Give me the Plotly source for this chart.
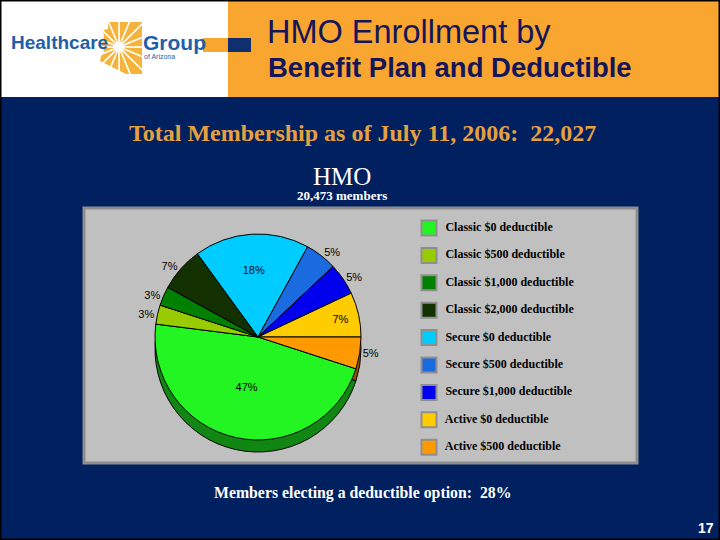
import math
import plotly.graph_objects as go

# ---------------- data ----------------
plans = [
    "Classic $0 deductible",
    "Classic $500 deductible",
    "Classic $1,000 deductible",
    "Classic $2,000 deductible",
    "Secure $0 deductible",
    "Secure $500 deductible",
    "Secure $1,000 deductible",
    "Active $0 deductible",
    "Active $500 deductible",
]
shares = [47, 3, 3, 7, 18, 5, 5, 7, 5]
colors = ["#22F522", "#99CC00", "#008000", "#123000", "#00CCFF",
          "#1A6AE0", "#0000EE", "#FFCC00", "#FF9900"]
label_pos = ["inside", "outside", "outside", "outside", "inside",
             "outside", "outside", "inside", "outside"]

title1 = "HMO Enrollment by"
title2 = "Benefit Plan and Deductible"
total_text = "Total Membership as of July 11, 2006:  22,027"
hmo_text = "HMO"
hmo_members = "20,473 members"
footer_text = "Members electing a deductible option:  28%"
page_no = "17"

# ---------------- helpers ----------------
W, H = 720, 540
def px(x):
    return x / W
def py(y):
    return 1 - y / H

def darken(hexc, f=0.55):
    hexc = hexc.lstrip("#")
    r, g, b = (int(hexc[i:i + 2], 16) for i in (0, 2, 4))
    return "#%02x%02x%02x" % (int(r * f), int(g * f), int(b * f))

NAVY = "#002060"
ORANGE = "#F9A630"
TITLE_C = "#15155A"

fig = go.Figure()

# pie geometry (pixel)
cx, cy, R, depth = 258, 337, 103, 12

# 3D side of pie (drawn first, shifted down)
fig.add_trace(go.Pie(
    values=shares, labels=plans, sort=False, direction="clockwise", rotation=108,
    marker=dict(colors=[darken(c) for c in colors], line=dict(color="black", width=1)),
    textinfo="none", hoverinfo="skip", showlegend=False,
    domain=dict(x=[px(cx - R), px(cx + R)], y=[py(cy + depth + R), py(cy + depth - R)]),
))

# top face of pie
fig.add_trace(go.Pie(
    values=shares, labels=plans, sort=False, direction="clockwise", rotation=108,
    marker=dict(colors=colors, line=dict(color="black", width=1)),
    texttemplate="%{percent:.0%}", textposition=label_pos,
    insidetextorientation="horizontal",
    textfont=dict(family="Liberation Sans, Arial", size=11, color="black"),
    showlegend=False,
    domain=dict(x=[px(cx - R), px(cx + R)], y=[py(cy + R), py(cy - R)]),
))

# legend built as a scatter on hidden axes
idx = list(range(len(plans)))
fig.add_trace(go.Scatter(
    x=[0] * len(plans), y=idx, mode="markers+text",
    marker=dict(symbol="square", size=15, color=colors,
                line=dict(color="#8F8F8F", width=2)),
    text=plans, texttemplate="  %{text}", textposition="middle right",
    textfont=dict(family="Liberation Serif, Times New Roman", size=12,
                  color="black", weight="bold"),
    hoverinfo="skip", showlegend=False,
    xaxis="x", yaxis="y", cliponaxis=False,
))

leg_top, leg_step = 228, 27.4
fig.update_layout(
    xaxis=dict(domain=[px(420), px(640)], range=[-9, 211], visible=False, fixedrange=True),
    yaxis=dict(domain=[py(leg_top + 8.5 * leg_step), py(leg_top - 0.5 * leg_step)],
               range=[8.5, -0.5], visible=False, fixedrange=True),
)

shapes = []
# header
shapes.append(dict(type="rect", xref="paper", yref="paper", x0=0, x1=px(228), y0=py(97), y1=1,
                   fillcolor="white", line=dict(width=0), layer="below"))
shapes.append(dict(type="rect", xref="paper", yref="paper", x0=px(228), x1=1, y0=py(97), y1=1,
                   fillcolor=ORANGE, line=dict(width=0), layer="below"))
shapes.append(dict(type="rect", xref="paper", yref="paper", x0=px(203), x1=px(228), y0=py(52), y1=py(38),
                   fillcolor=ORANGE, line=dict(width=0), layer="below"))
shapes.append(dict(type="rect", xref="paper", yref="paper", x0=px(228), x1=px(251), y0=py(52), y1=py(38),
                   fillcolor="#0F2F6E", line=dict(width=0), layer="below"))
# logo: Arizona shape with sunburst
az = [(108, 22), (142, 22), (142, 74), (126, 74), (100, 61), (101, 56), (104, 52),
      (102, 44), (104, 36), (103, 30), (108, 29)]
path = "M " + " L ".join(f"{px(x)},{py(y)}" for x, y in az) + " Z"
shapes.append(dict(type="path", xref="paper", yref="paper", path=path,
                   fillcolor="#F4B33A", line=dict(width=0), layer="below"))
scx, scy = 119, 47
for k in range(16):
    a = 2 * math.pi * k / 16
    shapes.append(dict(type="line", xref="paper", yref="paper",
                       x0=px(scx + 4 * math.cos(a)), y0=py(scy + 4 * math.sin(a)),
                       x1=px(scx + 34 * math.cos(a)), y1=py(scy + 34 * math.sin(a)),
                       line=dict(color="white", width=1.6), layer="below"))
shapes.append(dict(type="circle", xref="paper", yref="paper",
                   x0=px(scx - 5), x1=px(scx + 5), y0=py(scy + 5), y1=py(scy - 5),
                   fillcolor="white", line=dict(width=0), layer="below"))
# chart panel
shapes.append(dict(type="rect", xref="paper", yref="paper", x0=px(84), x1=px(637), y0=py(463), y1=py(208),
                   fillcolor="#C0C0C0", line=dict(color="#8E8E8E", width=3), layer="below"))
# outer black frame
shapes.append(dict(type="rect", xref="paper", yref="paper", x0=0, x1=1, y0=0, y1=1,
                   fillcolor="rgba(0,0,0,0)", line=dict(color="black", width=3)))

ann = []
def add_text(text, x, y, size, color, family, weight="normal", xanchor="center"):
    ann.append(dict(text=text, x=px(x), y=py(y), xref="paper", yref="paper",
                    xanchor=xanchor, yanchor="middle", showarrow=False,
                    font=dict(size=size, color=color, family=family, weight=weight)))

SANS = "Liberation Sans, Arial"
SERIF = "Liberation Serif, Times New Roman"
add_text("Healthcare", 9, 43, 19, "#1F5FA8", SANS, "bold", "left")
add_text("Group", 141, 43, 21, "#1F5FA8", SANS, "bold", "left")
add_text("of Arizona", 142, 57, 7, "#1F5FA8", SANS, "normal", "left")
add_text(title1, 265, 32, 32.5, TITLE_C, SANS, "normal", "left")
add_text(title2, 266, 67, 27.5, TITLE_C, SANS, "bold", "left")
add_text(total_text, 362, 133, 24, "#E5A040", SERIF, "bold")
add_text(hmo_text, 342, 176, 25, "white", SERIF, "normal")
add_text(hmo_members, 342, 196, 13, "white", SERIF, "bold")
add_text(footer_text, 212, 493, 15.8, "white", SERIF, "bold", "left")
add_text(page_no, 706, 528, 14, "white", SANS, "bold")

fig.update_layout(
    width=W, height=H, margin=dict(l=0, r=0, t=0, b=0),
    paper_bgcolor=NAVY, plot_bgcolor="rgba(0,0,0,0)",
    shapes=shapes, annotations=ann, showlegend=False,
)

fig.write_html("out.html", config={"displayModeBar": False},
               post_script="document.body.style.margin='0';document.body.style.overflow='hidden';")
